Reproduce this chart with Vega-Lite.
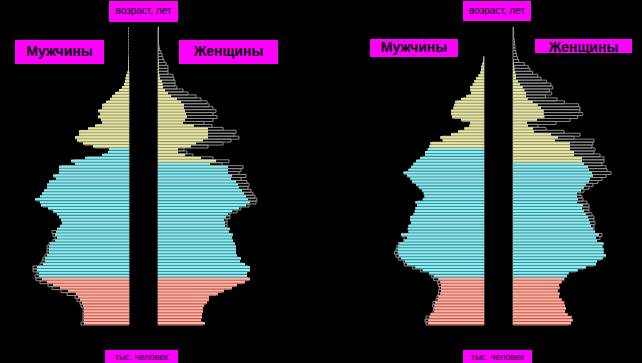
{
"$schema": "https://vega.github.io/schema/vega-lite/v6.json",
"background": "black",
"padding": 0,
"bounds": "flush",
"spacing": 29,
"config": {"view": {"stroke": null}},
"resolve": {"scale": {"x": "independent", "y": "independent", "color": "independent"}},
"datasets": {"pop": [
{"p":"A","s":"M","a":0,"g":"young","v":450,"o":480},{"p":"A","s":"M","a":1,"g":"young","v":450,"o":460},{"p":"A","s":"M","a":2,"g":"young","v":450,"o":460},{"p":"A","s":"M","a":3,"g":"young","v":450,"o":460},{"p":"A","s":"M","a":4,"g":"young","v":450,"o":460},{"p":"A","s":"M","a":5,"g":"young","v":450,"o":460},{"p":"A","s":"M","a":6,"g":"young","v":460,"o":480},{"p":"A","s":"M","a":7,"g":"young","v":470,"o":490},{"p":"A","s":"M","a":8,"g":"young","v":490,"o":520},{"p":"A","s":"M","a":9,"g":"young","v":510,"o":540},{"p":"A","s":"M","a":10,"g":"young","v":530,"o":620},{"p":"A","s":"M","a":11,"g":"young","v":610,"o":680},{"p":"A","s":"M","a":12,"g":"young","v":690,"o":770},{"p":"A","s":"M","a":13,"g":"young","v":760,"o":810},{"p":"A","s":"M","a":14,"g":"young","v":820,"o":890},{"p":"A","s":"M","a":15,"g":"young","v":870,"o":930},
{"p":"A","s":"M","a":16,"g":"work","v":900,"o":940},{"p":"A","s":"M","a":17,"g":"work","v":900,"o":920},{"p":"A","s":"M","a":18,"g":"work","v":920,"o":960},{"p":"A","s":"M","a":19,"g":"work","v":920,"o":960},{"p":"A","s":"M","a":20,"g":"work","v":860,"o":890},{"p":"A","s":"M","a":21,"g":"work","v":840,"o":870},{"p":"A","s":"M","a":22,"g":"work","v":840,"o":860},{"p":"A","s":"M","a":23,"g":"work","v":820,"o":840},{"p":"A","s":"M","a":24,"g":"work","v":800,"o":820},{"p":"A","s":"M","a":25,"g":"work","v":800,"o":820},{"p":"A","s":"M","a":26,"g":"work","v":800,"o":820},{"p":"A","s":"M","a":27,"g":"work","v":790,"o":800},{"p":"A","s":"M","a":28,"g":"work","v":740,"o":760},{"p":"A","s":"M","a":29,"g":"work","v":720,"o":740},{"p":"A","s":"M","a":30,"g":"work","v":740,"o":760},{"p":"A","s":"M","a":31,"g":"work","v":730,"o":770},{"p":"A","s":"M","a":32,"g":"work","v":720,"o":700},{"p":"A","s":"M","a":33,"g":"work","v":690,"o":670},{"p":"A","s":"M","a":34,"g":"work","v":670,"o":650},{"p":"A","s":"M","a":35,"g":"work","v":680,"o":660},{"p":"A","s":"M","a":36,"g":"work","v":700,"o":680},{"p":"A","s":"M","a":37,"g":"work","v":720,"o":700},{"p":"A","s":"M","a":38,"g":"work","v":760,"o":740},{"p":"A","s":"M","a":39,"g":"work","v":810,"o":790},{"p":"A","s":"M","a":40,"g":"work","v":880,"o":860},{"p":"A","s":"M","a":41,"g":"work","v":890,"o":870},{"p":"A","s":"M","a":42,"g":"work","v":940,"o":920},{"p":"A","s":"M","a":43,"g":"work","v":890,"o":870},{"p":"A","s":"M","a":44,"g":"work","v":870,"o":850},{"p":"A","s":"M","a":45,"g":"work","v":850,"o":830},{"p":"A","s":"M","a":46,"g":"work","v":820,"o":800},{"p":"A","s":"M","a":47,"g":"work","v":820,"o":800},{"p":"A","s":"M","a":48,"g":"work","v":800,"o":780},{"p":"A","s":"M","a":49,"g":"work","v":730,"o":710},{"p":"A","s":"M","a":50,"g":"work","v":760,"o":740},{"p":"A","s":"M","a":51,"g":"work","v":700,"o":680},{"p":"A","s":"M","a":52,"g":"work","v":700,"o":680},{"p":"A","s":"M","a":53,"g":"work","v":700,"o":680},{"p":"A","s":"M","a":54,"g":"work","v":540,"o":520},{"p":"A","s":"M","a":55,"g":"work","v":580,"o":560},{"p":"A","s":"M","a":56,"g":"work","v":440,"o":420},{"p":"A","s":"M","a":57,"g":"work","v":270,"o":250},{"p":"A","s":"M","a":58,"g":"work","v":210,"o":190},{"p":"A","s":"M","a":59,"g":"work","v":200,"o":180},
{"p":"A","s":"M","a":60,"g":"old","v":360,"o":340},{"p":"A","s":"M","a":61,"g":"old","v":460,"o":440},{"p":"A","s":"M","a":62,"g":"old","v":520,"o":500},{"p":"A","s":"M","a":63,"g":"old","v":540,"o":520},{"p":"A","s":"M","a":64,"g":"old","v":500,"o":480},{"p":"A","s":"M","a":65,"g":"old","v":500,"o":480},{"p":"A","s":"M","a":66,"g":"old","v":410,"o":390},{"p":"A","s":"M","a":67,"g":"old","v":340,"o":320},{"p":"A","s":"M","a":68,"g":"old","v":270,"o":250},{"p":"A","s":"M","a":69,"g":"old","v":280,"o":260},{"p":"A","s":"M","a":70,"g":"old","v":310,"o":290},{"p":"A","s":"M","a":71,"g":"old","v":290,"o":270},{"p":"A","s":"M","a":72,"g":"old","v":310,"o":290},{"p":"A","s":"M","a":73,"g":"old","v":270,"o":250},{"p":"A","s":"M","a":74,"g":"old","v":270,"o":250},{"p":"A","s":"M","a":75,"g":"old","v":230,"o":210},{"p":"A","s":"M","a":76,"g":"old","v":190,"o":170},{"p":"A","s":"M","a":77,"g":"old","v":170,"o":150},{"p":"A","s":"M","a":78,"g":"old","v":140,"o":120},{"p":"A","s":"M","a":79,"g":"old","v":100,"o":80},{"p":"A","s":"M","a":80,"g":"old","v":70,"o":50},{"p":"A","s":"M","a":81,"g":"old","v":50,"o":35},{"p":"A","s":"M","a":82,"g":"old","v":40,"o":30},{"p":"A","s":"M","a":83,"g":"old","v":35,"o":25},{"p":"A","s":"M","a":84,"g":"old","v":30,"o":20},{"p":"A","s":"M","a":85,"g":"old","v":15,"o":10},{"p":"A","s":"M","a":86,"g":"old","v":10,"o":0},{"p":"A","s":"M","a":87,"g":"old","v":10,"o":0},{"p":"A","s":"M","a":88,"g":"old","v":8,"o":0},{"p":"A","s":"M","a":89,"g":"old","v":8,"o":0},{"p":"A","s":"M","a":90,"g":"old","v":6,"o":0},{"p":"A","s":"M","a":91,"g":"old","v":4,"o":0},{"p":"A","s":"M","a":92,"g":"old","v":4,"o":0},{"p":"A","s":"M","a":93,"g":"old","v":4,"o":0},{"p":"A","s":"M","a":94,"g":"old","v":4,"o":0},{"p":"A","s":"M","a":95,"g":"old","v":4,"o":0},{"p":"A","s":"M","a":96,"g":"old","v":4,"o":0},{"p":"A","s":"M","a":97,"g":"old","v":4,"o":0},{"p":"A","s":"M","a":98,"g":"old","v":4,"o":0},{"p":"A","s":"M","a":99,"g":"old","v":4,"o":0},{"p":"A","s":"M","a":100,"g":"old","v":4,"o":0},

{"p":"A","s":"F","a":0,"g":"young","v":470,"o":450},{"p":"A","s":"F","a":1,"g":"young","v":430,"o":410},{"p":"A","s":"F","a":2,"g":"young","v":440,"o":420},{"p":"A","s":"F","a":3,"g":"young","v":440,"o":420},{"p":"A","s":"F","a":4,"g":"young","v":450,"o":430},{"p":"A","s":"F","a":5,"g":"young","v":450,"o":430},{"p":"A","s":"F","a":6,"g":"young","v":460,"o":440},{"p":"A","s":"F","a":7,"g":"young","v":490,"o":470},{"p":"A","s":"F","a":8,"g":"young","v":510,"o":490},{"p":"A","s":"F","a":9,"g":"young","v":510,"o":490},{"p":"A","s":"F","a":10,"g":"young","v":600,"o":580},{"p":"A","s":"F","a":11,"g":"young","v":660,"o":640},{"p":"A","s":"F","a":12,"g":"young","v":740,"o":720},{"p":"A","s":"F","a":13,"g":"young","v":790,"o":770},{"p":"A","s":"F","a":14,"g":"young","v":870,"o":850},{"p":"A","s":"F","a":15,"g":"young","v":920,"o":900},
{"p":"A","s":"F","a":16,"g":"work","v":890,"o":870},{"p":"A","s":"F","a":17,"g":"work","v":890,"o":870},{"p":"A","s":"F","a":18,"g":"work","v":920,"o":900},{"p":"A","s":"F","a":19,"g":"work","v":920,"o":900},{"p":"A","s":"F","a":20,"g":"work","v":870,"o":850},{"p":"A","s":"F","a":21,"g":"work","v":820,"o":800},{"p":"A","s":"F","a":22,"g":"work","v":830,"o":810},{"p":"A","s":"F","a":23,"g":"work","v":790,"o":770},{"p":"A","s":"F","a":24,"g":"work","v":780,"o":760},{"p":"A","s":"F","a":25,"g":"work","v":780,"o":760},{"p":"A","s":"F","a":26,"g":"work","v":780,"o":760},{"p":"A","s":"F","a":27,"g":"work","v":770,"o":750},{"p":"A","s":"F","a":28,"g":"work","v":750,"o":730},{"p":"A","s":"F","a":29,"g":"work","v":740,"o":720},{"p":"A","s":"F","a":30,"g":"work","v":750,"o":730},{"p":"A","s":"F","a":31,"g":"work","v":710,"o":690},{"p":"A","s":"F","a":32,"g":"work","v":720,"o":690},{"p":"A","s":"F","a":33,"g":"work","v":670,"o":690},{"p":"A","s":"F","a":34,"g":"work","v":670,"o":690},{"p":"A","s":"F","a":35,"g":"work","v":660,"o":690},{"p":"A","s":"F","a":36,"g":"work","v":680,"o":720},{"p":"A","s":"F","a":37,"g":"work","v":700,"o":720},{"p":"A","s":"F","a":38,"g":"work","v":740,"o":790},{"p":"A","s":"F","a":39,"g":"work","v":810,"o":830},{"p":"A","s":"F","a":40,"g":"work","v":880,"o":910},{"p":"A","s":"F","a":41,"g":"work","v":920,"o":980},{"p":"A","s":"F","a":42,"g":"work","v":900,"o":990},{"p":"A","s":"F","a":43,"g":"work","v":880,"o":970},{"p":"A","s":"F","a":44,"g":"work","v":860,"o":950},{"p":"A","s":"F","a":45,"g":"work","v":840,"o":930},{"p":"A","s":"F","a":46,"g":"work","v":810,"o":900},{"p":"A","s":"F","a":47,"g":"work","v":800,"o":910},{"p":"A","s":"F","a":48,"g":"work","v":780,"o":890},{"p":"A","s":"F","a":49,"g":"work","v":730,"o":830},{"p":"A","s":"F","a":50,"g":"work","v":740,"o":880},{"p":"A","s":"F","a":51,"g":"work","v":700,"o":810},{"p":"A","s":"F","a":52,"g":"work","v":700,"o":830},{"p":"A","s":"F","a":53,"g":"work","v":700,"o":850},{"p":"A","s":"F","a":54,"g":"work","v":520,"o":640},
{"p":"A","s":"F","a":55,"g":"old","v":580,"o":710},{"p":"A","s":"F","a":56,"g":"old","v":430,"o":550},{"p":"A","s":"F","a":57,"g":"old","v":270,"o":350},{"p":"A","s":"F","a":58,"g":"old","v":200,"o":290},{"p":"A","s":"F","a":59,"g":"old","v":200,"o":260},{"p":"A","s":"F","a":60,"g":"old","v":330,"o":500},{"p":"A","s":"F","a":61,"g":"old","v":380,"o":650},{"p":"A","s":"F","a":62,"g":"old","v":450,"o":730},{"p":"A","s":"F","a":63,"g":"old","v":500,"o":810},{"p":"A","s":"F","a":64,"g":"old","v":500,"o":760},{"p":"A","s":"F","a":65,"g":"old","v":500,"o":780},{"p":"A","s":"F","a":66,"g":"old","v":500,"o":650},{"p":"A","s":"F","a":67,"g":"old","v":360,"o":540},{"p":"A","s":"F","a":68,"g":"old","v":250,"o":460},{"p":"A","s":"F","a":69,"g":"old","v":270,"o":550},{"p":"A","s":"F","a":70,"g":"old","v":290,"o":590},{"p":"A","s":"F","a":71,"g":"old","v":280,"o":550},{"p":"A","s":"F","a":72,"g":"old","v":270,"o":580},{"p":"A","s":"F","a":73,"g":"old","v":260,"o":550},{"p":"A","s":"F","a":74,"g":"old","v":260,"o":510},{"p":"A","s":"F","a":75,"g":"old","v":230,"o":490},{"p":"A","s":"F","a":76,"g":"old","v":190,"o":430},{"p":"A","s":"F","a":77,"g":"old","v":130,"o":380},{"p":"A","s":"F","a":78,"g":"old","v":100,"o":300},{"p":"A","s":"F","a":79,"g":"old","v":70,"o":250},{"p":"A","s":"F","a":80,"g":"old","v":50,"o":190},{"p":"A","s":"F","a":81,"g":"old","v":45,"o":170},{"p":"A","s":"F","a":82,"g":"old","v":40,"o":170},{"p":"A","s":"F","a":83,"g":"old","v":20,"o":160},{"p":"A","s":"F","a":84,"g":"old","v":15,"o":150},{"p":"A","s":"F","a":85,"g":"old","v":10,"o":100},{"p":"A","s":"F","a":86,"g":"old","v":10,"o":100},{"p":"A","s":"F","a":87,"g":"old","v":8,"o":100},{"p":"A","s":"F","a":88,"g":"old","v":8,"o":80},{"p":"A","s":"F","a":89,"g":"old","v":6,"o":60},{"p":"A","s":"F","a":90,"g":"old","v":3,"o":50},{"p":"A","s":"F","a":91,"g":"old","v":3,"o":40},{"p":"A","s":"F","a":92,"g":"old","v":3,"o":30},{"p":"A","s":"F","a":93,"g":"old","v":3,"o":15},{"p":"A","s":"F","a":94,"g":"old","v":3,"o":10},{"p":"A","s":"F","a":95,"g":"old","v":3,"o":5},{"p":"A","s":"F","a":96,"g":"old","v":3,"o":5},{"p":"A","s":"F","a":97,"g":"old","v":3,"o":5},{"p":"A","s":"F","a":98,"g":"old","v":3,"o":5},{"p":"A","s":"F","a":99,"g":"old","v":3,"o":5},{"p":"A","s":"F","a":100,"g":"old","v":3,"o":5},

{"p":"B","s":"M","a":0,"g":"young","v":557,"o":580},{"p":"B","s":"M","a":1,"g":"young","v":557,"o":590},{"p":"B","s":"M","a":2,"g":"young","v":547,"o":580},{"p":"B","s":"M","a":3,"g":"young","v":530,"o":537},{"p":"B","s":"M","a":4,"g":"young","v":497,"o":510},{"p":"B","s":"M","a":5,"g":"young","v":497,"o":503},{"p":"B","s":"M","a":6,"g":"young","v":497,"o":513},{"p":"B","s":"M","a":7,"g":"young","v":490,"o":510},{"p":"B","s":"M","a":8,"g":"young","v":463,"o":480},{"p":"B","s":"M","a":9,"g":"young","v":457,"o":470},{"p":"B","s":"M","a":10,"g":"young","v":437,"o":457},{"p":"B","s":"M","a":11,"g":"young","v":430,"o":453},{"p":"B","s":"M","a":12,"g":"young","v":430,"o":447},{"p":"B","s":"M","a":13,"g":"young","v":430,"o":457},{"p":"B","s":"M","a":14,"g":"young","v":437,"o":463},{"p":"B","s":"M","a":15,"g":"young","v":457,"o":503},
{"p":"B","s":"M","a":16,"g":"work","v":503,"o":523},{"p":"B","s":"M","a":17,"g":"work","v":547,"o":547},{"p":"B","s":"M","a":18,"g":"work","v":613,"o":637},{"p":"B","s":"M","a":19,"g":"work","v":687,"o":713},{"p":"B","s":"M","a":20,"g":"work","v":770,"o":797},{"p":"B","s":"M","a":21,"g":"work","v":790,"o":803},{"p":"B","s":"M","a":22,"g":"work","v":830,"o":857},{"p":"B","s":"M","a":23,"g":"work","v":853,"o":880},{"p":"B","s":"M","a":24,"g":"work","v":863,"o":897},{"p":"B","s":"M","a":25,"g":"work","v":863,"o":880},{"p":"B","s":"M","a":26,"g":"work","v":857,"o":870},{"p":"B","s":"M","a":27,"g":"work","v":847,"o":857},{"p":"B","s":"M","a":28,"g":"work","v":797,"o":803},{"p":"B","s":"M","a":29,"g":"work","v":770,"o":800},{"p":"B","s":"M","a":30,"g":"work","v":830,"o":820},{"p":"B","s":"M","a":31,"g":"work","v":757,"o":737},{"p":"B","s":"M","a":32,"g":"work","v":763,"o":743},{"p":"B","s":"M","a":33,"g":"work","v":757,"o":737},{"p":"B","s":"M","a":34,"g":"work","v":730,"o":710},{"p":"B","s":"M","a":35,"g":"work","v":740,"o":720},{"p":"B","s":"M","a":36,"g":"work","v":740,"o":720},{"p":"B","s":"M","a":37,"g":"work","v":707,"o":687},{"p":"B","s":"M","a":38,"g":"work","v":693,"o":673},{"p":"B","s":"M","a":39,"g":"work","v":687,"o":667},{"p":"B","s":"M","a":40,"g":"work","v":670,"o":650},{"p":"B","s":"M","a":41,"g":"work","v":687,"o":667},{"p":"B","s":"M","a":42,"g":"work","v":613,"o":593},{"p":"B","s":"M","a":43,"g":"work","v":597,"o":577},{"p":"B","s":"M","a":44,"g":"work","v":603,"o":583},{"p":"B","s":"M","a":45,"g":"work","v":620,"o":600},{"p":"B","s":"M","a":46,"g":"work","v":653,"o":633},{"p":"B","s":"M","a":47,"g":"work","v":680,"o":660},{"p":"B","s":"M","a":48,"g":"work","v":720,"o":700},{"p":"B","s":"M","a":49,"g":"work","v":737,"o":717},{"p":"B","s":"M","a":50,"g":"work","v":770,"o":750},{"p":"B","s":"M","a":51,"g":"work","v":807,"o":787},{"p":"B","s":"M","a":52,"g":"work","v":757,"o":737},{"p":"B","s":"M","a":53,"g":"work","v":730,"o":710},{"p":"B","s":"M","a":54,"g":"work","v":707,"o":687},{"p":"B","s":"M","a":55,"g":"work","v":680,"o":660},{"p":"B","s":"M","a":56,"g":"work","v":640,"o":620},{"p":"B","s":"M","a":57,"g":"work","v":590,"o":570},{"p":"B","s":"M","a":58,"g":"work","v":590,"o":570},{"p":"B","s":"M","a":59,"g":"work","v":563,"o":543},
{"p":"B","s":"M","a":60,"g":"old","v":547,"o":527},{"p":"B","s":"M","a":61,"g":"old","v":537,"o":517},{"p":"B","s":"M","a":62,"g":"old","v":413,"o":393},{"p":"B","s":"M","a":63,"g":"old","v":437,"o":417},{"p":"B","s":"M","a":64,"g":"old","v":330,"o":310},{"p":"B","s":"M","a":65,"g":"old","v":260,"o":240},{"p":"B","s":"M","a":66,"g":"old","v":197,"o":177},{"p":"B","s":"M","a":67,"g":"old","v":147,"o":127},{"p":"B","s":"M","a":68,"g":"old","v":140,"o":120},{"p":"B","s":"M","a":69,"g":"old","v":230,"o":210},{"p":"B","s":"M","a":70,"g":"old","v":320,"o":300},{"p":"B","s":"M","a":71,"g":"old","v":330,"o":310},{"p":"B","s":"M","a":72,"g":"old","v":330,"o":310},{"p":"B","s":"M","a":73,"g":"old","v":307,"o":287},{"p":"B","s":"M","a":74,"g":"old","v":300,"o":280},{"p":"B","s":"M","a":75,"g":"old","v":290,"o":270},{"p":"B","s":"M","a":76,"g":"old","v":230,"o":210},{"p":"B","s":"M","a":77,"g":"old","v":177,"o":157},{"p":"B","s":"M","a":78,"g":"old","v":130,"o":110},{"p":"B","s":"M","a":79,"g":"old","v":137,"o":117},{"p":"B","s":"M","a":80,"g":"old","v":140,"o":120},{"p":"B","s":"M","a":81,"g":"old","v":113,"o":93},{"p":"B","s":"M","a":82,"g":"old","v":97,"o":77},{"p":"B","s":"M","a":83,"g":"old","v":80,"o":60},{"p":"B","s":"M","a":84,"g":"old","v":57,"o":37},{"p":"B","s":"M","a":85,"g":"old","v":37,"o":17},{"p":"B","s":"M","a":86,"g":"old","v":30,"o":10},{"p":"B","s":"M","a":87,"g":"old","v":27,"o":7},{"p":"B","s":"M","a":88,"g":"old","v":17,"o":5},{"p":"B","s":"M","a":89,"g":"old","v":7,"o":3},{"p":"B","s":"M","a":90,"g":"old","v":5,"o":2},{"p":"B","s":"M","a":91,"g":"old","v":0,"o":0},{"p":"B","s":"M","a":92,"g":"old","v":0,"o":0},{"p":"B","s":"M","a":93,"g":"old","v":0,"o":0},{"p":"B","s":"M","a":94,"g":"old","v":0,"o":0},{"p":"B","s":"M","a":95,"g":"old","v":0,"o":0},{"p":"B","s":"M","a":96,"g":"old","v":0,"o":0},{"p":"B","s":"M","a":97,"g":"old","v":0,"o":0},{"p":"B","s":"M","a":98,"g":"old","v":0,"o":0},{"p":"B","s":"M","a":99,"g":"old","v":0,"o":0},{"p":"B","s":"M","a":100,"g":"old","v":0,"o":0},

{"p":"B","s":"F","a":0,"g":"young","v":580,"o":560},{"p":"B","s":"F","a":1,"g":"young","v":597,"o":577},{"p":"B","s":"F","a":2,"g":"young","v":587,"o":567},{"p":"B","s":"F","a":3,"g":"young","v":547,"o":527},{"p":"B","s":"F","a":4,"g":"young","v":520,"o":500},{"p":"B","s":"F","a":5,"g":"young","v":530,"o":510},{"p":"B","s":"F","a":6,"g":"young","v":520,"o":500},{"p":"B","s":"F","a":7,"g":"young","v":513,"o":493},{"p":"B","s":"F","a":8,"g":"young","v":487,"o":467},{"p":"B","s":"F","a":9,"g":"young","v":460,"o":440},{"p":"B","s":"F","a":10,"g":"young","v":467,"o":447},{"p":"B","s":"F","a":11,"g":"young","v":447,"o":427},{"p":"B","s":"F","a":12,"g":"young","v":467,"o":447},{"p":"B","s":"F","a":13,"g":"young","v":460,"o":440},{"p":"B","s":"F","a":14,"g":"young","v":487,"o":467},{"p":"B","s":"F","a":15,"g":"young","v":513,"o":493},
{"p":"B","s":"F","a":16,"g":"work","v":540,"o":520},{"p":"B","s":"F","a":17,"g":"work","v":557,"o":537},{"p":"B","s":"F","a":18,"g":"work","v":647,"o":627},{"p":"B","s":"F","a":19,"g":"work","v":730,"o":710},{"p":"B","s":"F","a":20,"g":"work","v":830,"o":810},{"p":"B","s":"F","a":21,"g":"work","v":840,"o":820},{"p":"B","s":"F","a":22,"g":"work","v":897,"o":877},{"p":"B","s":"F","a":23,"g":"work","v":930,"o":910},{"p":"B","s":"F","a":24,"g":"work","v":907,"o":887},{"p":"B","s":"F","a":25,"g":"work","v":907,"o":887},{"p":"B","s":"F","a":26,"g":"work","v":897,"o":877},{"p":"B","s":"F","a":27,"g":"work","v":907,"o":887},{"p":"B","s":"F","a":28,"g":"work","v":840,"o":830},{"p":"B","s":"F","a":29,"g":"work","v":830,"o":870},{"p":"B","s":"F","a":30,"g":"work","v":860,"o":890},{"p":"B","s":"F","a":31,"g":"work","v":820,"o":810},{"p":"B","s":"F","a":32,"g":"work","v":800,"o":810},{"p":"B","s":"F","a":33,"g":"work","v":780,"o":810},{"p":"B","s":"F","a":34,"g":"work","v":770,"o":820},{"p":"B","s":"F","a":35,"g":"work","v":760,"o":810},{"p":"B","s":"F","a":36,"g":"work","v":750,"o":810},{"p":"B","s":"F","a":37,"g":"work","v":730,"o":790},{"p":"B","s":"F","a":38,"g":"work","v":710,"o":760},{"p":"B","s":"F","a":39,"g":"work","v":690,"o":760},{"p":"B","s":"F","a":40,"g":"work","v":700,"o":760},{"p":"B","s":"F","a":41,"g":"work","v":640,"o":740},{"p":"B","s":"F","a":42,"g":"work","v":650,"o":700},{"p":"B","s":"F","a":43,"g":"work","v":640,"o":690},{"p":"B","s":"F","a":44,"g":"work","v":640,"o":670},{"p":"B","s":"F","a":45,"g":"work","v":680,"o":710},{"p":"B","s":"F","a":46,"g":"work","v":710,"o":760},{"p":"B","s":"F","a":47,"g":"work","v":730,"o":800},{"p":"B","s":"F","a":48,"g":"work","v":760,"o":850},{"p":"B","s":"F","a":49,"g":"work","v":770,"o":890},{"p":"B","s":"F","a":50,"g":"work","v":800,"o":930},{"p":"B","s":"F","a":51,"g":"work","v":790,"o":980},{"p":"B","s":"F","a":52,"g":"work","v":760,"o":940},{"p":"B","s":"F","a":53,"g":"work","v":750,"o":930},{"p":"B","s":"F","a":54,"g":"work","v":710,"o":890},
{"p":"B","s":"F","a":55,"g":"old","v":690,"o":910},{"p":"B","s":"F","a":56,"g":"old","v":690,"o":910},{"p":"B","s":"F","a":57,"g":"old","v":610,"o":870},{"p":"B","s":"F","a":58,"g":"old","v":610,"o":810},{"p":"B","s":"F","a":59,"g":"old","v":570,"o":820},{"p":"B","s":"F","a":60,"g":"old","v":570,"o":790},{"p":"B","s":"F","a":61,"g":"old","v":570,"o":800},{"p":"B","s":"F","a":62,"g":"old","v":420,"o":810},{"p":"B","s":"F","a":63,"g":"old","v":450,"o":610},{"p":"B","s":"F","a":64,"g":"old","v":380,"o":670},{"p":"B","s":"F","a":65,"g":"old","v":210,"o":510},{"p":"B","s":"F","a":66,"g":"old","v":200,"o":330},{"p":"B","s":"F","a":67,"g":"old","v":150,"o":250},{"p":"B","s":"F","a":68,"g":"old","v":140,"o":430},{"p":"B","s":"F","a":69,"g":"old","v":240,"o":570},{"p":"B","s":"F","a":70,"g":"old","v":313,"o":647},{"p":"B","s":"F","a":71,"g":"old","v":307,"o":697},{"p":"B","s":"F","a":72,"g":"old","v":307,"o":670},{"p":"B","s":"F","a":73,"g":"old","v":280,"o":670},{"p":"B","s":"F","a":74,"g":"old","v":247,"o":657},{"p":"B","s":"F","a":75,"g":"old","v":197,"o":513},{"p":"B","s":"F","a":76,"g":"old","v":147,"o":440},{"p":"B","s":"F","a":77,"g":"old","v":130,"o":323},{"p":"B","s":"F","a":78,"g":"old","v":130,"o":387},{"p":"B","s":"F","a":79,"g":"old","v":113,"o":363},{"p":"B","s":"F","a":80,"g":"old","v":97,"o":397},{"p":"B","s":"F","a":81,"g":"old","v":70,"o":380},{"p":"B","s":"F","a":82,"g":"old","v":50,"o":337},{"p":"B","s":"F","a":83,"g":"old","v":30,"o":280},{"p":"B","s":"F","a":84,"g":"old","v":30,"o":247},{"p":"B","s":"F","a":85,"g":"old","v":23,"o":197},{"p":"B","s":"F","a":86,"g":"old","v":15,"o":170},{"p":"B","s":"F","a":87,"g":"old","v":13,"o":153},{"p":"B","s":"F","a":88,"g":"old","v":7,"o":113},{"p":"B","s":"F","a":89,"g":"old","v":3,"o":57},{"p":"B","s":"F","a":90,"g":"old","v":0,"o":47},{"p":"B","s":"F","a":91,"g":"old","v":0,"o":35},{"p":"B","s":"F","a":92,"g":"old","v":0,"o":30},{"p":"B","s":"F","a":93,"g":"old","v":0,"o":20},{"p":"B","s":"F","a":94,"g":"old","v":0,"o":20},{"p":"B","s":"F","a":95,"g":"old","v":0,"o":15},{"p":"B","s":"F","a":96,"g":"old","v":0,"o":13},{"p":"B","s":"F","a":97,"g":"old","v":0,"o":7},{"p":"B","s":"F","a":98,"g":"old","v":0,"o":7},{"p":"B","s":"F","a":99,"g":"old","v":0,"o":7},{"p":"B","s":"F","a":100,"g":"old","v":0,"o":5}
]},
"hconcat": [
{
 "width": 129, "height": 363,
 "data": {"name": "pop"},
 "transform": [{"filter": "datum.p == 'A' && datum.s == 'M'"}],
 "resolve": {"scale": {"color": "independent"}},
 "layer": [
  {"transform": [{"filter": "datum.o > 0"}],
   "mark": {"type": "bar", "orient": "horizontal", "height": 2.95, "filled": false, "stroke": "#8c8c8c", "strokeWidth": 1},
   "encoding": {"x": {"field": "o", "type": "quantitative", "scale": {"domain": [0, 1290], "reverse": true, "nice": false}, "axis": null},
                "y": {"field": "a", "type": "quantitative", "scale": {"domain": [-13.38, 109.67], "nice": false, "zero": false, "padding": 0}, "axis": null}}},
  {"mark": {"type": "bar", "orient": "horizontal", "height": 2.95},
   "encoding": {"x": {"field": "v", "type": "quantitative", "scale": {"domain": [0, 1290], "reverse": true, "nice": false}, "axis": null},
                "y": {"field": "a", "type": "quantitative", "axis": null},
                "color": {"field": "g", "type": "nominal", "scale": {"domain": ["young", "work", "old"], "range": ["#c05a50", "#2a979d", "#9c9c68"]}, "legend": null}}},
  {"mark": {"type": "bar", "orient": "horizontal", "height": 1.9, "yOffset": -0.5},
   "encoding": {"x": {"field": "v", "type": "quantitative", "axis": null},
                "y": {"field": "a", "type": "quantitative", "axis": null},
                "color": {"field": "g", "type": "nominal", "scale": {"domain": ["young", "work", "old"], "range": ["#ffb2a2", "#98e6ee", "#e6e6a6"]}, "legend": null}}},
  {"data": {"values": [{}]}, "mark": {"type": "rect", "color": "#ff00ff"},
   "encoding": {"x": {"datum": 1140}, "x2": {"datum": 250}, "y": {"datum": 96.1}, "y2": {"datum": 88.0}}},
  {"data": {"values": [{}]}, "mark": {"type": "text", "text": "Мужчины", "font": "Liberation Sans", "fontSize": 14, "fontWeight": "bold", "color": "black", "align": "center", "baseline": "middle"},
   "encoding": {"x": {"datum": 695}, "y": {"datum": 92.0}}}
 ]
},
{
 "width": 160, "height": 363,
 "data": {"name": "pop"},
 "transform": [{"filter": "datum.p == 'A' && datum.s == 'F'"}],
 "resolve": {"scale": {"color": "independent"}},
 "layer": [
  {"transform": [{"filter": "datum.o > 0"}],
   "mark": {"type": "bar", "orient": "horizontal", "height": 2.95, "filled": false, "stroke": "#8c8c8c", "strokeWidth": 1},
   "encoding": {"x": {"field": "o", "type": "quantitative", "scale": {"domain": [0, 1600], "nice": false}, "axis": null},
                "y": {"field": "a", "type": "quantitative", "scale": {"domain": [-13.38, 109.67], "nice": false, "zero": false, "padding": 0}, "axis": null}}},
  {"mark": {"type": "bar", "orient": "horizontal", "height": 2.95},
   "encoding": {"x": {"field": "v", "type": "quantitative", "axis": null},
                "y": {"field": "a", "type": "quantitative", "axis": null},
                "color": {"field": "g", "type": "nominal", "scale": {"domain": ["young", "work", "old"], "range": ["#c05a50", "#2a979d", "#9c9c68"]}, "legend": null}}},
  {"mark": {"type": "bar", "orient": "horizontal", "height": 1.9, "yOffset": -0.5},
   "encoding": {"x": {"field": "v", "type": "quantitative", "axis": null},
                "y": {"field": "a", "type": "quantitative", "axis": null},
                "color": {"field": "g", "type": "nominal", "scale": {"domain": ["young", "work", "old"], "range": ["#ffb2a2", "#98e6ee", "#e6e6a6"]}, "legend": null}}},
  {"data": {"values": [{}]}, "mark": {"type": "rect", "color": "#ff00ff"},
   "encoding": {"x": {"datum": 210}, "x2": {"datum": 1200}, "y": {"datum": 96.1}, "y2": {"datum": 88.0}}},
  {"data": {"values": [{}]}, "mark": {"type": "text", "text": "Женщины", "font": "Liberation Sans", "fontSize": 14, "fontWeight": "bold", "color": "black", "align": "center", "baseline": "middle"},
   "encoding": {"x": {"datum": 705}, "y": {"datum": 92.0}}},
  {"data": {"values": [{}]}, "mark": {"type": "rect", "color": "#ff00ff"},
   "encoding": {"x": {"datum": -490}, "x2": {"datum": 200}, "y": {"datum": 109.33}, "y2": {"datum": 102.2}}},
  {"data": {"values": [{}]}, "mark": {"type": "text", "text": "возраст, лет", "font": "Liberation Sans", "fontSize": 10, "color": "black", "align": "center", "baseline": "middle"},
   "encoding": {"x": {"datum": -145}, "y": {"datum": 105.8}}},
  {"data": {"values": [{}]}, "mark": {"type": "rect", "color": "#ff00ff"},
   "encoding": {"x": {"datum": -530}, "x2": {"datum": 200}, "y": {"datum": -8.97}, "y2": {"datum": -14.4}}},
  {"data": {"values": [{}]}, "mark": {"type": "text", "text": "тыс. человек", "font": "Liberation Sans", "fontSize": 9, "color": "black", "align": "center", "baseline": "middle"},
   "encoding": {"x": {"datum": -165}, "y": {"datum": -11.2}}}
 ]
},
{
 "width": 137, "height": 363,
 "data": {"name": "pop"},
 "transform": [{"filter": "datum.p == 'B' && datum.s == 'M'"}],
 "resolve": {"scale": {"color": "independent"}},
 "layer": [
  {"transform": [{"filter": "datum.o > 0"}],
   "mark": {"type": "bar", "orient": "horizontal", "height": 2.95, "filled": false, "stroke": "#8c8c8c", "strokeWidth": 1},
   "encoding": {"x": {"field": "o", "type": "quantitative", "scale": {"domain": [0, 1370], "reverse": true, "nice": false}, "axis": null},
                "y": {"field": "a", "type": "quantitative", "scale": {"domain": [-13.38, 109.67], "nice": false, "zero": false, "padding": 0}, "axis": null}}},
  {"mark": {"type": "bar", "orient": "horizontal", "height": 2.95},
   "encoding": {"x": {"field": "v", "type": "quantitative", "axis": null},
                "y": {"field": "a", "type": "quantitative", "axis": null},
                "color": {"field": "g", "type": "nominal", "scale": {"domain": ["young", "work", "old"], "range": ["#c05a50", "#2a979d", "#9c9c68"]}, "legend": null}}},
  {"mark": {"type": "bar", "orient": "horizontal", "height": 1.9, "yOffset": -0.5},
   "encoding": {"x": {"field": "v", "type": "quantitative", "axis": null},
                "y": {"field": "a", "type": "quantitative", "axis": null},
                "color": {"field": "g", "type": "nominal", "scale": {"domain": ["young", "work", "old"], "range": ["#ffb2a2", "#98e6ee", "#e6e6a6"]}, "legend": null}}},
  {"data": {"values": [{}]}, "mark": {"type": "rect", "color": "#ff00ff"},
   "encoding": {"x": {"datum": 1140}, "x2": {"datum": 260}, "y": {"datum": 96.45}, "y2": {"datum": 90.35}}},
  {"data": {"values": [{}]}, "mark": {"type": "text", "text": "Мужчины", "font": "Liberation Sans", "fontSize": 14, "fontWeight": "bold", "color": "black", "align": "center", "baseline": "middle"},
   "encoding": {"x": {"datum": 700}, "y": {"datum": 93.4}}}
 ]
},
{
 "width": 129, "height": 363,
 "data": {"name": "pop"},
 "transform": [{"filter": "datum.p == 'B' && datum.s == 'F'"}],
 "resolve": {"scale": {"color": "independent"}},
 "layer": [
  {"transform": [{"filter": "datum.o > 0"}],
   "mark": {"type": "bar", "orient": "horizontal", "height": 2.95, "filled": false, "stroke": "#8c8c8c", "strokeWidth": 1},
   "encoding": {"x": {"field": "o", "type": "quantitative", "scale": {"domain": [0, 1290], "nice": false}, "axis": null},
                "y": {"field": "a", "type": "quantitative", "scale": {"domain": [-13.38, 109.67], "nice": false, "zero": false, "padding": 0}, "axis": null}}},
  {"mark": {"type": "bar", "orient": "horizontal", "height": 2.95},
   "encoding": {"x": {"field": "v", "type": "quantitative", "axis": null},
                "y": {"field": "a", "type": "quantitative", "axis": null},
                "color": {"field": "g", "type": "nominal", "scale": {"domain": ["young", "work", "old"], "range": ["#c05a50", "#2a979d", "#9c9c68"]}, "legend": null}}},
  {"mark": {"type": "bar", "orient": "horizontal", "height": 1.9, "yOffset": -0.5},
   "encoding": {"x": {"field": "v", "type": "quantitative", "axis": null},
                "y": {"field": "a", "type": "quantitative", "axis": null},
                "color": {"field": "g", "type": "nominal", "scale": {"domain": ["young", "work", "old"], "range": ["#ffb2a2", "#98e6ee", "#e6e6a6"]}, "legend": null}}},
  {"data": {"values": [{}]}, "mark": {"type": "rect", "color": "#ff00ff"},
   "encoding": {"x": {"datum": 220}, "x2": {"datum": 1190}, "y": {"datum": 96.45}, "y2": {"datum": 91.7}}},
  {"data": {"values": [{}]}, "mark": {"type": "text", "text": "Женщины", "font": "Liberation Sans", "fontSize": 14, "fontWeight": "bold", "color": "black", "align": "center", "baseline": "middle"},
   "encoding": {"x": {"datum": 705}, "y": {"datum": 93.5}}},
  {"data": {"values": [{}]}, "mark": {"type": "rect", "color": "#ff00ff"},
   "encoding": {"x": {"datum": -500}, "x2": {"datum": 180}, "y": {"datum": 109.33}, "y2": {"datum": 102.55}}},
  {"data": {"values": [{}]}, "mark": {"type": "text", "text": "возраст, лет", "font": "Liberation Sans", "fontSize": 10, "color": "black", "align": "center", "baseline": "middle"},
   "encoding": {"x": {"datum": -160}, "y": {"datum": 105.94}}},
  {"data": {"values": [{}]}, "mark": {"type": "rect", "color": "#ff00ff"},
   "encoding": {"x": {"datum": -500}, "x2": {"datum": 190}, "y": {"datum": -8.97}, "y2": {"datum": -13.38}}},
  {"data": {"values": [{}]}, "mark": {"type": "text", "text": "тыс. человек", "font": "Liberation Sans", "fontSize": 9, "color": "black", "align": "center", "baseline": "middle"},
   "encoding": {"x": {"datum": -155}, "y": {"datum": -11.2}}}
 ]
}
]
}
